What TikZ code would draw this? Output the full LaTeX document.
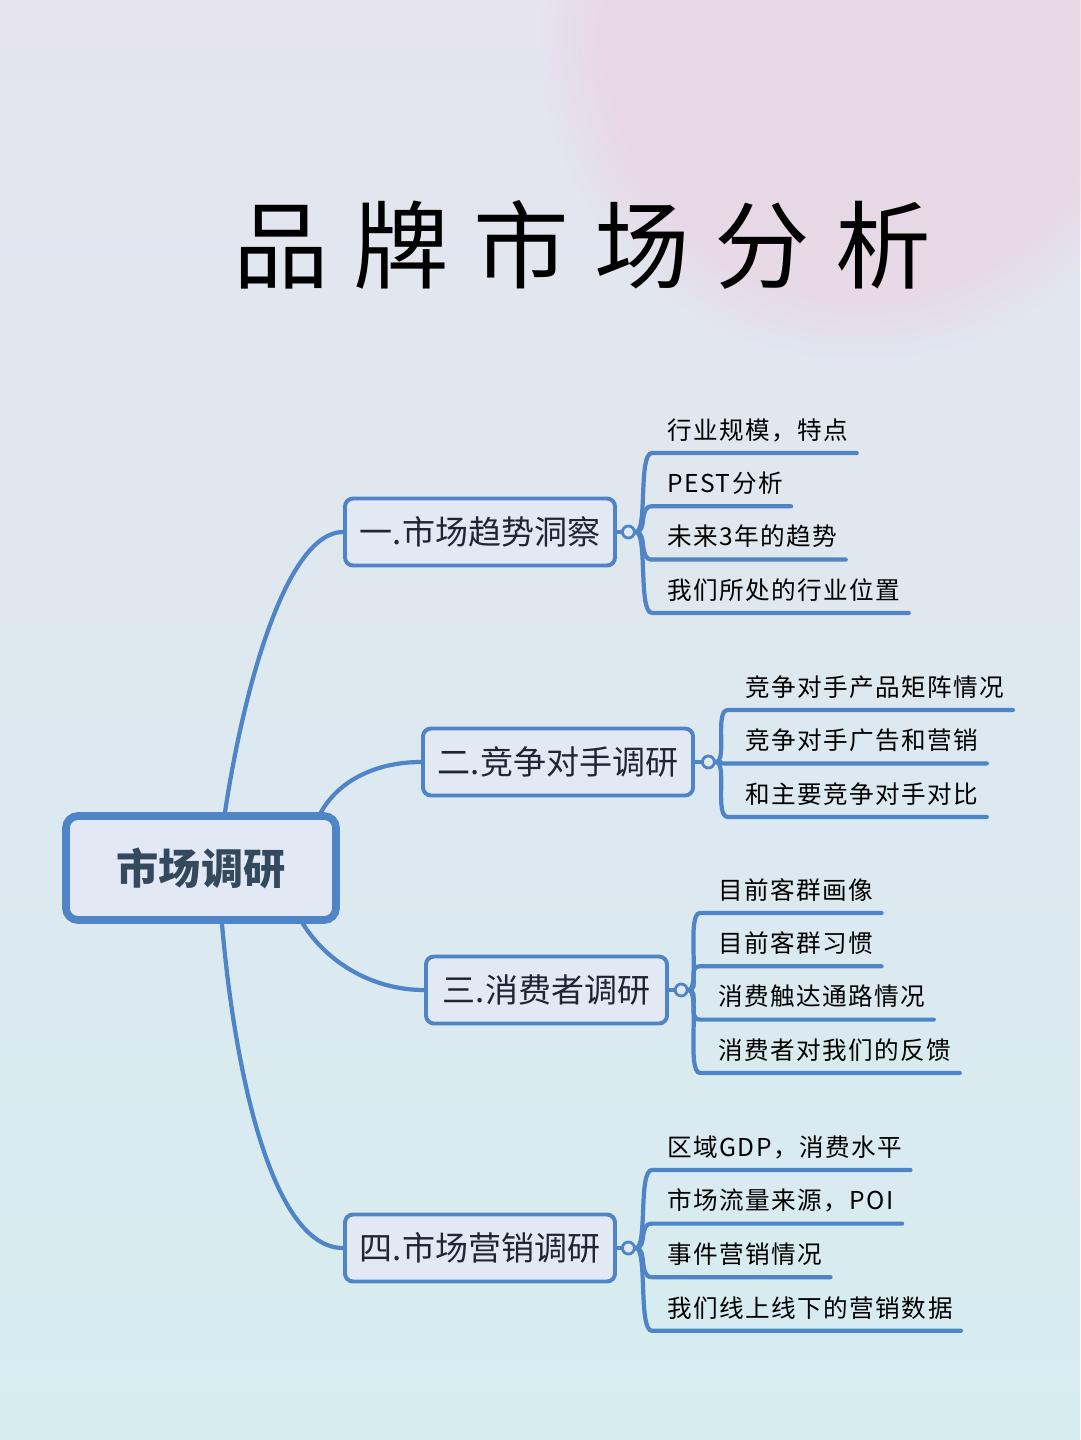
\documentclass[tikz,border=0pt]{standalone}
\usepackage{fontspec}
\setmainfont{Noto Sans CJK SC}
\newfontfamily\titlefont[LetterSpace=26]{Noto Sans CJK SC}
\newfontfamily\leaffont[LetterSpace=6]{Noto Sans CJK SC}
\usepackage{tikz}
\usetikzlibrary{positioning,calc,fadings}
\definecolor{cLine}{HTML}{4F84C6}
\definecolor{cFill}{HTML}{E3E9F4}
\definecolor{cRoot}{HTML}{34495E}
\definecolor{cText}{HTML}{1E2633}
\definecolor{cBgTop}{HTML}{E5E4EF}
\definecolor{cBgBot}{HTML}{D6EDF0}
\definecolor{cPink}{HTML}{ECCFE0}
\tikzset{
  rootbox/.style={draw=cLine, line width=5.5pt, rounded corners=3mm, fill=cFill,
                  minimum width=67.5mm, minimum height=26mm,
                  font=\fontsize{30}{30}\selectfont\bfseries, text=cRoot},
  topicbox/.style={draw=cLine, line width=2.8pt, rounded corners=2mm, fill=cFill,
                   minimum width=67.5mm, minimum height=16.75mm,
                   font=\fontsize{23.5}{24}\selectfont, text=cText},
  knot/.style={circle, draw=cLine, line width=2pt, fill=cFill, minimum size=3mm, inner sep=0pt},
  leaf/.style={anchor=west, inner xsep=2mm, inner ysep=0pt,
               font=\leaffont\fontsize{17.5}{18}\selectfont, text=black},
  link/.style={draw=cLine, line width=3pt, line cap=round}
}

\begin{document}
\begin{tikzpicture}[x=0.25mm, y=-0.25mm]
% background
\useasboundingbox (0,0) rectangle (1080,1440);
\shade[top color=cBgTop, bottom color=cBgBot] (0,0) rectangle (1080,1440);
\fill[cPink, opacity=0.55, path fading=circle with fuzzy edge 20 percent] (860,40) circle (320);
% title
\node[font=\titlefont\fontsize{68}{70}\selectfont, text=black] (title) at (582,245) {品牌市场分析};
% root and topics
\node[rootbox] (root) at (201,868) {市场调研};
\node[topicbox] (t1) at (480,532) {一.市场趋势洞察};
\node[topicbox] (t2) at (558,762) {二.竞争对手调研};
\node[topicbox, minimum width=60.25mm] (t3) at (546.5,990) {三.消费者调研};
\node[topicbox] (t4) at (480,1248) {四.市场营销调研};
\draw[link] ([xshift=6mm]root.north) .. controls +(20,-132) and +(-55,0) .. (t1.west);
\draw[link] ([xshift=30mm]root.north) .. controls +(20,-35) and +(-40,0) .. (t2.west);
\draw[link] ([xshift=25.5mm]root.south) .. controls +(25,40) and +(-50,0) .. (t3.west);
\draw[link] ([xshift=5.25mm]root.south) .. controls +(13,152) and +(-70,0) .. (t4.west);
% knots
\node[knot, right=1mm of t1] (k1) {};
\node[knot, right=1.5mm of t2] (k2) {};
\node[knot, right=1.2mm of t3] (k3) {};
\node[knot, right=1mm of t4] (k4) {};
\draw[link] (t1) -- (k1); \draw[link] (t2) -- (k2);
\draw[link] (t3) -- (k3); \draw[link] (t4) -- (k4);
% leaves, topic 1
\foreach \txt [count=\i, evaluate=\i as \yy using 453+53.3*(\i-1)] in
    {行业规模，特点, PEST分析, 未来3年的趋势, 我们所处的行业位置} {
  \coordinate (s1\i) at (652,\yy);
  \node[leaf] (l1\i) at (659,\yy-23) {\txt};
  \draw[link] (k1.east) .. controls +(12,0) and +(-14,0) .. (s1\i) -- (s1\i -| l1\i.east);
}
% leaves, topic 2
\foreach \txt [count=\i, evaluate=\i as \yy using 710+53.5*(\i-1)] in
    {竞争对手产品矩阵情况, 竞争对手广告和营销, 和主要竞争对手对比} {
  \coordinate (s2\i) at (728,\yy);
  \node[leaf] (l2\i) at (737,\yy-23) {\txt};
  \draw[link] (k2.east) .. controls +(12,0) and +(-14,0) .. (s2\i) -- (s2\i -| l2\i.east);
}
% leaves, topic 3
\foreach \txt [count=\i, evaluate=\i as \yy using 913+53.3*(\i-1)] in
    {目前客群画像, 目前客群习惯, 消费触达通路情况, 消费者对我们的反馈} {
  \coordinate (s3\i) at (700,\yy);
  \node[leaf] (l3\i) at (710,\yy-23) {\txt};
  \draw[link] (k3.east) .. controls +(12,0) and +(-14,0) .. (s3\i) -- (s3\i -| l3\i.east);
}
% leaves, topic 4
\foreach \txt [count=\i, evaluate=\i as \yy using 1170+53.6*(\i-1)] in
    {区域GDP，消费水平, 市场流量来源，POI, 事件营销情况, 我们线上线下的营销数据} {
  \coordinate (s4\i) at (652,\yy);
  \node[leaf] (l4\i) at (659,\yy-23) {\txt};
  \draw[link] (k4.east) .. controls +(12,0) and +(-14,0) .. (s4\i) -- (s4\i -| l4\i.east);
}
\end{tikzpicture}
\end{document}
